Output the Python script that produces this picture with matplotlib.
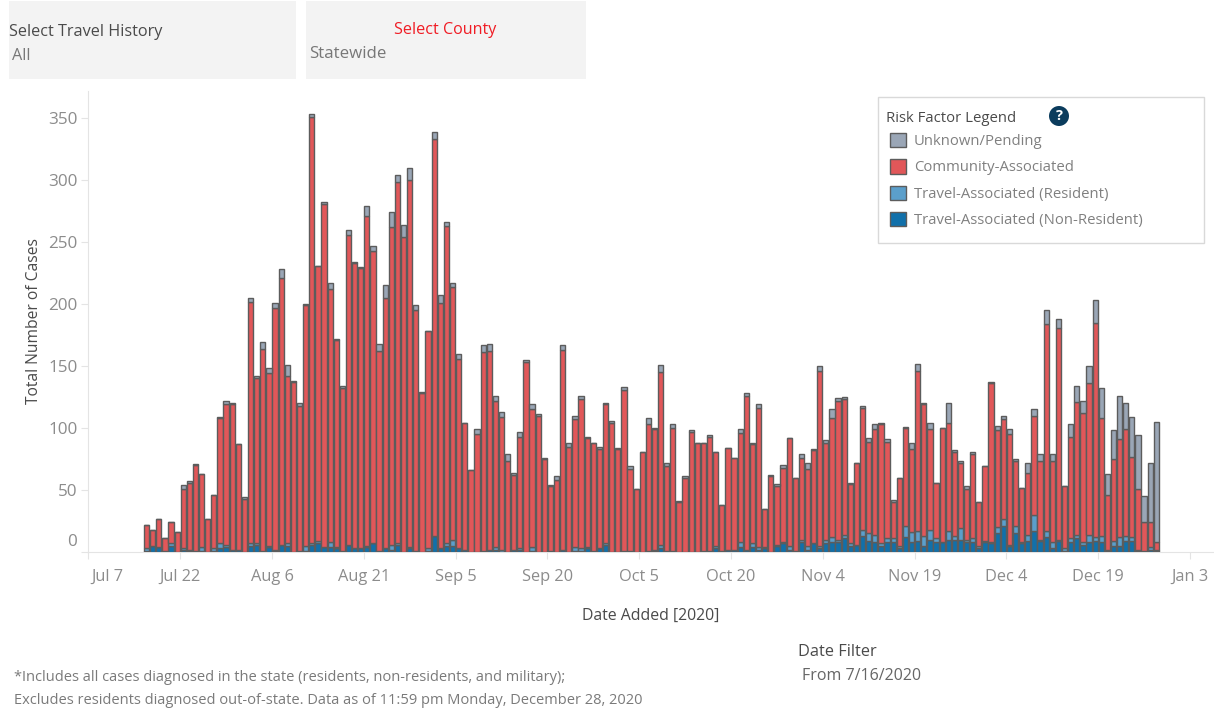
import numpy as np
import pandas as pd
import matplotlib
matplotlib.use("Agg")
import matplotlib.pyplot as plt
from matplotlib.patches import Rectangle, Circle
from matplotlib.transforms import Affine2D

W, H = 1214, 710
plt.rcParams['font.family'] = ['Open Sans', 'DejaVu Sans']

start_date = '2020-07-16'
total_cases = [22,18,27,11,24,16,54,57,71,63,27,46,109,122,120,87,44,205,142,169,148,201,228,151,138,120,200,353,231,282,217,172,134,260,234,230,279,247,168,215,
               274,304,264,310,199,129,178,339,207,266,217,160,104,66,99,167,168,126,113,79,64,97,155,119,111,76,54,61,167,88,110,126,93,88,85,120,106,84,133,69,51,
               81,108,100,151,72,103,41,61,98,88,88,94,81,38,84,76,99,128,88,119,35,62,55,70,92,60,79,72,83,150,90,115,124,125,56,72,118,92,103,104,91,42,60,101,
               88,152,120,104,56,100,120,82,73,53,81,40,69,137,102,110,99,75,52,72,115,79,195,79,188,53,103,134,122,150,203,132,63,98,126,120,109,94,45,72,105]
unknown = [0,0,0,0,0,0,3,1,1,0,0,0,1,3,1,0,1,3,2,5,4,4,7,9,1,2,1,2,0,1,5,1,2,4,1,1,8,4,6,10,
           12,6,10,10,4,1,0,6,6,3,3,4,0,0,4,6,6,4,4,6,2,4,2,4,1,1,1,3,4,3,3,3,1,0,2,1,2,1,2,2,0,
           0,5,1,6,3,3,1,1,1,0,0,1,0,0,0,0,3,2,1,3,0,1,2,2,0,0,3,5,1,4,2,7,2,2,1,0,2,3,4,1,2,2,0,1,
           5,6,1,5,0,0,16,1,1,2,2,0,0,1,4,3,4,2,0,8,5,6,11,6,7,0,10,13,10,14,18,24,17,23,35,21,32,43,21,48,97]
travel_resident = [2,0,0,0,2,0,1,1,0,3,0,2,4,2,0,0,0,2,1,0,1,1,0,2,0,0,4,1,2,0,4,1,0,0,0,0,1,0,0,0,
                   4,1,0,1,0,0,2,0,0,2,5,0,0,0,0,0,0,2,2,0,0,1,0,3,0,0,0,0,0,0,3,2,1,1,0,1,0,0,0,0,0,
                   0,0,1,3,0,0,0,0,0,0,0,0,2,0,0,0,4,0,3,2,1,0,1,1,3,0,2,3,0,2,3,4,2,3,2,0,5,6,6,2,3,3,2,9,
                   8,8,8,8,3,0,7,3,9,2,3,2,1,1,5,6,1,6,1,5,13,1,5,5,1,2,3,3,2,6,3,5,1,4,7,4,3,1,0,2,1]
travel_non_resident = [1,5,4,1,5,0,2,1,1,1,0,1,3,4,2,2,0,5,6,1,4,1,6,5,0,1,1,6,7,4,4,3,1,6,3,3,4,7,1,3,
                       2,6,0,3,1,0,1,13,3,5,5,3,2,0,0,1,2,2,0,0,2,2,0,1,0,0,1,0,2,0,1,1,3,0,3,6,0,0,1,1,0,
                       0,1,1,3,1,1,0,0,0,0,1,1,3,1,2,2,4,2,4,2,3,0,5,7,2,1,8,2,7,3,7,8,8,11,5,6,13,9,8,5,8,8,3,12,
                       8,9,5,10,8,8,10,10,10,8,8,3,8,7,15,21,5,15,7,9,17,9,12,3,9,1,8,11,6,8,9,8,1,5,5,9,9,1,1,2,1]
x_tick_dates = ['2020-07-07','2020-07-22','2020-08-06','2020-08-21','2020-09-05','2020-09-20','2020-10-05',
                '2020-10-20','2020-11-04','2020-11-19','2020-12-04','2020-12-19','2021-01-03']
x_tick_labels = ['Jul 7','Jul 22','Aug 6','Aug 21','Sep 5','Sep 20','Oct 5','Oct 20','Nov 4','Nov 19','Dec 4','Dec 19','Jan 3']
y_ticks = [0, 50, 100, 150, 200, 250, 300, 350]
legend_labels = ['Unknown/Pending','Community-Associated','Travel-Associated (Resident)','Travel-Associated (Non-Resident)']

C_UNK, C_COM, C_RES, C_NON = '#9aa6b6', '#e15759', '#5b9fcb', '#1170aa'
EDGE = '#5c5c5c'
TICK = '#8c8c8c'
DARK = '#4a4a4a'
FOOT = '#7a7a7a'
RULE = '#e4e4e4'

total = np.array(total_cases)
unk = np.array(unknown)
res = np.array(travel_resident)
non = np.array(travel_non_resident)
com = total - unk - res - non
dates = pd.date_range(start_date, periods=len(total))
xs = (dates - pd.Timestamp('2020-01-01')).days.values + 0.5
tick_x = (pd.to_datetime(x_tick_dates) - pd.Timestamp('2020-01-01')).days.values

fig = plt.figure(figsize=(W / 100, H / 100), dpi=100, facecolor='white')
px_day = 6.12
ax_l, ax_r, ax_t, ax_b = 88.4, 1214, 91, 552
ax = fig.add_axes([ax_l / W, 1 - ax_b / H, (ax_r - ax_l) / W, (ax_b - ax_t) / H])
ax.set_xlim(tick_x[0], tick_x[0] + (ax_r - ax_l) / px_day)
ax.set_ylim(0, (ax_b - ax_t) / 1.24)

kw = dict(width=0.86, edgecolor=EDGE, linewidth=1.0, zorder=3)
b_non = ax.bar(xs, non, color=C_NON, label=legend_labels[3], **kw)
b_res = ax.bar(xs, res, bottom=non, color=C_RES, label=legend_labels[2], **kw)
b_com = ax.bar(xs, com, bottom=non + res, color=C_COM, label=legend_labels[1], **kw)
b_unk = ax.bar(xs, unk, bottom=non + res + com, color=C_UNK, label=legend_labels[0], **kw)

for s in ('top', 'right'):
    ax.spines[s].set_visible(False)
for s in ('left', 'bottom'):
    ax.spines[s].set_color(RULE)
    ax.spines[s].set_linewidth(0.8)
ax.set_xticks(tick_x)
ax.set_xticklabels(x_tick_labels)
ax.set_yticks(y_ticks)
ax.tick_params(axis='x', colors=RULE, labelcolor=TICK, labelsize=11.8, length=5, width=0.8, pad=7)
ax.tick_params(axis='y', colors=RULE, labelcolor=TICK, labelsize=12.3, length=5, width=0.8, pad=3)
first_x = ax.get_xticklabels()[0]
first_x.set_ha('left')
first_x.set_transform(first_x.get_transform() + Affine2D().translate(3, 0))
first_y = ax.get_yticklabels()[0]
first_y.set_va('bottom')
first_y.set_transform(first_y.get_transform() + Affine2D().translate(0, 2))


def ftext(x, y, s, **k):
    k.setdefault('va', 'center')
    k.setdefault('color', DARK)
    k.setdefault('fontsize', 11.5)
    fig.text(x / W, 1 - (y + 1.5) / H, s, **k)


def frect(x0, y0, x1, y1, **k):
    fig.add_artist(Rectangle((x0 / W, 1 - y1 / H), (x1 - x0) / W, (y1 - y0) / H,
                             transform=fig.transFigure, **k))


# filter panels
frect(9, 1, 296, 79, facecolor='#f3f3f3', edgecolor='none')
frect(306, 1, 586, 79, facecolor='#f3f3f3', edgecolor='none')
ftext(9, 30, 'Select Travel History', fontsize=11.7)
ftext(12, 54, 'All', color='#777777', fontsize=11.7)
ftext(445, 29, 'Select County', color='#f01c24', ha='center', fontsize=11.6)
ftext(309, 52, 'Statewide', color='#777777', fontsize=12.2)

# axis titles
ftext(651, 614, 'Date Added [2020]', ha='center', fontsize=11.4)
ftext(34, 320, 'Total Number of Cases', ha='center', rotation=90, fontsize=11.25)

# legend
frect(878, 97, 1204, 243, facecolor='white', edgecolor='#d9d9d9', linewidth=1, zorder=5)
leg = fig.legend([b_unk, b_com, b_res, b_non], legend_labels, frameon=False, loc='upper left',
                 bbox_to_anchor=(890 / W, 1 - 133 / H), bbox_transform=fig.transFigure,
                 fontsize=10.7, labelcolor='#808080', handlelength=1.1, handleheight=1.1,
                 handletextpad=0.5, labelspacing=0.68, borderpad=0, borderaxespad=0)
leg.set_zorder(6)
for h in leg.legend_handles:
    h.set_edgecolor(EDGE)
    h.set_linewidth(1)
ftext(886, 117, 'Risk Factor Legend', fontsize=10.7, zorder=7)
cx, cy, r = 1059, 116, 10
fig.add_artist(Circle((cx, H - cy), r, transform=None, facecolor='#0b3c5d', edgecolor='none', zorder=7))
ftext(cx, cy - 1.5, '?', color='white', ha='center', fontsize=10.5, fontweight='bold', zorder=8)

# notes
ftext(14, 676, '*Includes all cases diagnosed in the state (residents, non-residents, and military);',
      color=FOOT, fontsize=10.5)
ftext(14, 699, 'Excludes residents diagnosed out-of-state. Data as of 11:59 pm Monday, December 28, 2020',
      color=FOOT, fontsize=10.5)
ftext(798, 650, 'Date Filter', fontsize=11.8)
ftext(802, 674, 'From 7/16/2020', color='#666666', fontsize=11.5)

fig.savefig('out.png', dpi=100)
